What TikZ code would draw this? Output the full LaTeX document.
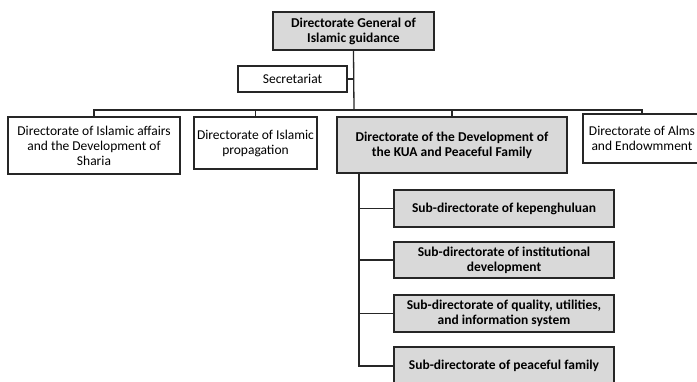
\documentclass[tikz,border=0pt]{standalone}
\usepackage{fontspec}
\setmainfont{Carlito}
\begin{document}
\begin{tikzpicture}[x=1pt,y=-1pt,
  box/.style={draw=black!85,line width=1.3pt,align=center,inner sep=0pt,font=\fontsize{13.5}{15}\selectfont},
  gbox/.style={box,fill=black!15,font=\fontsize{13.5}{15}\selectfont\bfseries},
  wire/.style={draw=black!85,line width=1.3pt}]
\useasboundingbox (0,0) rectangle (697,382);
\node[gbox,minimum width=161pt,minimum height=38pt] (top) at (353.5,31) {Directorate General of\\Islamic guidance};
\node[box,minimum width=109pt,minimum height=26pt] (sec) at (292.5,79) {Secretariat};
\node[box,minimum width=172pt,minimum height=57pt] (d1) at (94,145.5) {Directorate of Islamic affairs\\and the Development of\\Sharia};
\node[box,minimum width=123pt,minimum height=52pt] (d2) at (255.5,143) {Directorate of Islamic\\propagation};
\node[gbox,minimum width=230pt,minimum height=56pt] (d3) at (452,145) {Directorate of the Development of\\the KUA and Peaceful Family};
\node[box,minimum width=118pt,minimum height=49pt] (d4) at (642,138.5) {Directorate of Alms\\and Endowmment};
\node[gbox,minimum width=220pt,minimum height=37pt] (s1) at (504,208.5) {Sub-directorate of kepenghuluan};
\node[gbox,minimum width=220pt,minimum height=36pt] (s2) at (504,260) {Sub-directorate of institutional\\development};
\node[gbox,minimum width=220pt,minimum height=37pt] (s3) at (504,313.5) {Sub-directorate of quality, utilities,\\and information system};
\node[gbox,minimum width=220pt,minimum height=38pt] (s4) at (504,366) {Sub-directorate of peaceful family};
\coordinate (bus) at (354,110);
\coordinate (stem) at (359,0);
\draw[wire] (top.south) -- (bus);
\draw[wire] (sec.east) -- (sec.east -| top.south);
\draw[wire] (d1.north) |- (bus) -| (d4.north);
\draw[wire] (d2.north) -- (d2.north |- bus);
\draw[wire] (d3.north) -- (d3.north |- bus);
\draw[wire] (d3.south -| stem) |- (s4.west);
\foreach \s in {s1,s2,s3} \draw[wire] (\s.west -| stem) -- (\s.west);
\end{tikzpicture}
\end{document}
